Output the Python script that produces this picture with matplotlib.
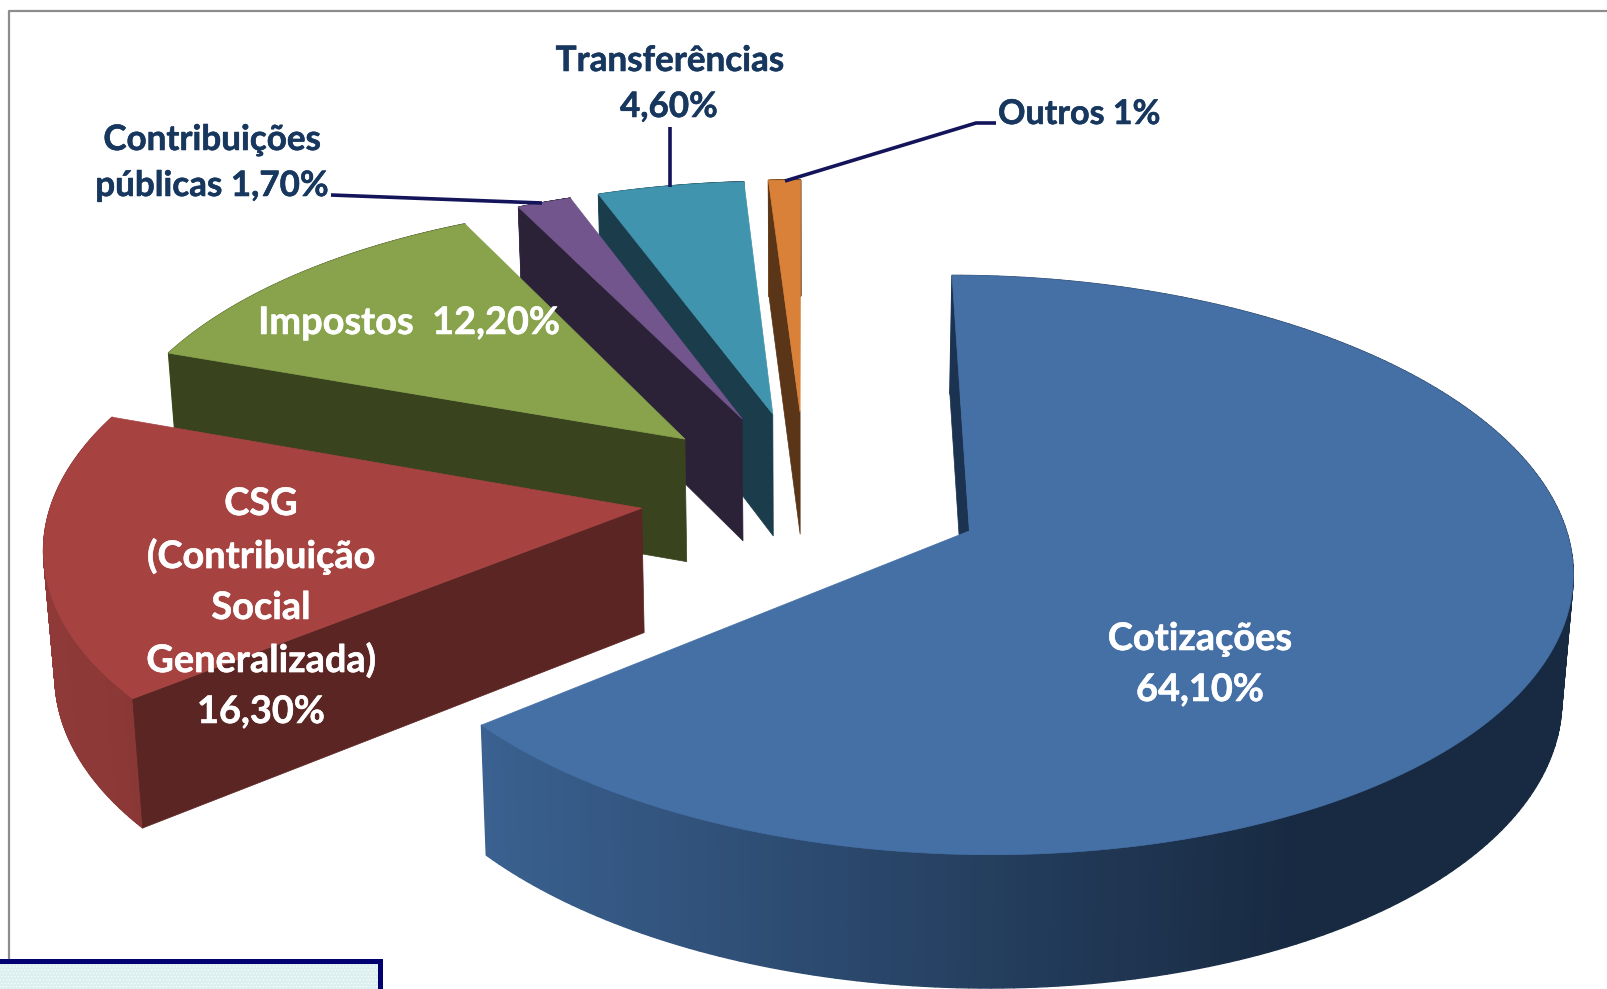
import numpy as np
import matplotlib
matplotlib.use("Agg")
import matplotlib.pyplot as plt
import matplotlib.patheffects as pe
from matplotlib.patches import Polygon, Rectangle
from matplotlib.collections import PolyCollection
from matplotlib.colors import to_rgb

plt.rcParams['font.family'] = ['Lato', 'DejaVu Sans']
plt.rcParams['hatch.linewidth'] = 0.8

# slices, clockwise from 12 o'clock
names = ['Cotizações', 'CSG', 'Impostos', 'Contribuições públicas', 'Transferências', 'Outros']
values = [64.1, 16.3, 12.2, 1.7, 4.6, 1.0]
top_colors = ['#4570A6', '#A64341', '#88A34C', '#71558C', '#4094AE', '#D98139']
face_colors = ['#1B3350', '#5B2523', '#39431E', '#2C2238', '#1B3C4A', '#5A3517']
wall_left = ['#3A6190', '#8F3A38', '#5A6E30', '#4A3A60', '#2A6478', '#8F5525']
wall_right = ['#182A42', '#8A3836', '#39431E', '#2C2238', '#1B3C4A', '#5A3517']
explode_x = [0.305, 0.28, 0.28, 0.28, 0.275, 0.275]

navy = '#17375E'
line_col = '#14145A'

# projection of the pie plane to pixels
cx, cy = 805, 494
sx, sy = 588, 277
persp = 0.116
explode_y = 0.305
depth = 124


def project(X, Y, z=0.0):
    w = 1 + persp * Y
    x = cx + sx * X / w
    y = cy - sy * Y / w
    x = cx + (x - cx) * (1 - 0.015 * z / depth)
    return x, y + z * (1 + 0.5 * (1 / w - 1))


fig = plt.figure(figsize=(16.08, 9.89), dpi=100)
ax = fig.add_axes([0, 0, 1, 1])
ax.set_xlim(0, 1608)
ax.set_ylim(989, 0)
ax.axis('off')

# frame
ax.plot([9, 9, 1608], [961, 11, 11], color='#8C8C8C', lw=1.6, zorder=1)

edges = np.cumsum([0] + values) / sum(values) * 2 * np.pi
order = [5, 4, 3, 2, 1, 0]  # back slices first, blue last

for z, i in enumerate(order):
    t0, t1 = edges[i], edges[i + 1]
    mid = (t0 + t1) / 2
    ex, ey = explode_x[i] * np.sin(mid), explode_y * np.cos(mid)
    t = np.linspace(t0, t1, 240)
    X = np.sin(t) + ex
    Y = np.cos(t) + ey
    top_x, top_y = project(X, Y)
    low_x, low_y = project(X, Y, depth)
    ax_x, ax_y = project(ex, ey)
    axl_x, axl_y = project(ex, ey, depth)

    base = 10 + z * 4
    # outer wall with left to right shading
    quads = []
    cols = []
    c0, c1 = np.array(to_rgb(wall_left[i])), np.array(to_rgb(wall_right[i]))
    x0, x1 = top_x.min(), min(top_x.max(), 1300)
    for j in range(len(t) - 1):
        quads.append([(top_x[j], top_y[j]), (top_x[j + 1], top_y[j + 1]),
                      (low_x[j + 1], low_y[j + 1]), (low_x[j], low_y[j])])
        f = np.clip((top_x[j] - x0) / max(x1 - x0, 1), 0, 1)
        cols.append(c0 + (c1 - c0) * f)
    ax.add_collection(PolyCollection(quads, facecolors=cols, edgecolors=cols, linewidths=1.0, zorder=base))
    # cut face on the leading edge
    ax.add_patch(Polygon([(ax_x, ax_y), (top_x[0], top_y[0]), (low_x[0], low_y[0]), (axl_x, axl_y)],
                         closed=True, fc=face_colors[i], ec=face_colors[i], lw=0.5, zorder=base + 1))
    # top surface
    pts = np.column_stack([np.r_[ax_x, top_x], np.r_[ax_y, top_y]])
    ax.add_patch(Polygon(pts, closed=True, fc=top_colors[i], ec=top_colors[i], lw=0.5, zorder=base + 2))

# leader lines
ax.plot([331, 542], [195, 203], color=line_col, lw=2.6, zorder=40, solid_capstyle='butt')
ax.plot([670, 670], [127, 187], color=line_col, lw=2.6, zorder=40, solid_capstyle='butt')
ax.plot([996, 976, 785], [123, 123, 181], color=line_col, lw=2.6, zorder=40, solid_capstyle='butt')

# labels
thick_navy = [pe.withStroke(linewidth=0.4, foreground=navy)]
thick_white = [pe.withStroke(linewidth=0.4, foreground='white')]
dark = dict(fontsize=25.2, fontweight='bold', ha='center', va='center', zorder=50, color=navy, path_effects=thick_navy)
light = dict(fontsize=27.3, fontweight='bold', ha='center', va='center', zorder=50, color='white', path_effects=thick_white)
for txt, x, y in [('Transferências', 670, 61), ('4,60%', 669, 107),
                  ('Contribuições', 212, 140), ('públicas 1,70%', 212, 186)]:
    ax.text(x, y, txt, **dark)
ax.text(998, 114, 'Outros 1%', fontsize=24.5, fontweight='bold', ha='left', va='center', zorder=50,
        color=navy, path_effects=thick_navy)
ax.text(409, 323, 'Impostos  12,20%', **light)
for txt, y in zip(['CSG', '(Contribuição', 'Social', 'Generalizada)', '16,30%'], [504, 556, 608, 660, 712]):
    ax.text(261, y, txt, **light)
ax.text(1200, 639, 'Cotizações', **light)
ax.text(1200, 690, '64,10%', **light)

# box cut off at the bottom of the picture
ax.add_patch(Rectangle((-5, 961), 385, 40, fc='#DCEFEF', ec='#F4FBFB', hatch='.....', lw=0, zorder=60))
ax.add_patch(Rectangle((-5, 961), 385, 40, fc='none', ec='#000070', lw=3.6, zorder=61))

fig.savefig('out.png', dpi=100)
